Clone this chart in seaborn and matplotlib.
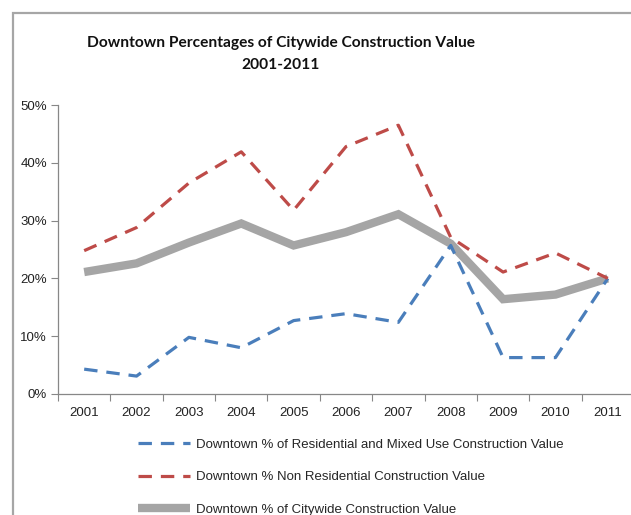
import matplotlib
matplotlib.use("Agg")
import matplotlib.pyplot as plt
from matplotlib.patches import Rectangle
from matplotlib.ticker import FixedLocator, PercentFormatter
import seaborn as sns
import pandas as pd

years = ["2001", "2002", "2003", "2004", "2005", "2006",
         "2007", "2008", "2009", "2010", "2011"]
residential = [4.3, 3.1, 9.8, 8.0, 12.7, 13.9, 12.4, 25.7, 6.3, 6.3, 20.0]
non_residential = [24.8, 28.8, 36.5, 41.9, 31.8, 42.8, 46.5, 27.1, 21.1, 24.4, 20.0]
citywide = [21.1, 22.6, 26.2, 29.5, 25.7, 28.0, 31.1, 26.0, 16.4, 17.2, 20.0]

labels = [
    "Downtown % of Residential and Mixed Use Construction Value",
    "Downtown % Non Residential Construction Value",
    "Downtown % of Citywide Construction Value",
]
colors = ["#4A7EBB", "#BE4B48", "#A5A5A5"]

sns.set_theme(style="white")
plt.rcParams["font.family"] = ["Liberation Sans", "DejaVu Sans"]

fig = plt.figure(figsize=(6.31, 5.15), dpi=100)
fig.patch.set_facecolor("white")

# outer chart border (open on the right and bottom)
fig.patches.append(Rectangle((13 / 631, -0.05), 1.2, (515 - 13) / 515 + 0.05,
                             transform=fig.transFigure, fill=False,
                             edgecolor="#A6A6A6", linewidth=1.6, zorder=0))

ax = fig.add_axes([58 / 631, (515 - 394) / 515, 576 / 631, (394 - 105) / 515])
ax.set_facecolor("none")

pos = list(range(len(years)))
df = pd.DataFrame({"pos": pos, "res": residential, "nonres": non_residential, "city": citywide})

sns.lineplot(data=df, x="pos", y="res", ax=ax, color=colors[0], linewidth=2.3,
             label=labels[0], dashes=False)
sns.lineplot(data=df, x="pos", y="nonres", ax=ax, color=colors[1], linewidth=2.3,
             label=labels[1], dashes=False)
sns.lineplot(data=df, x="pos", y="city", ax=ax, color=colors[2], linewidth=6,
             label=labels[2], dashes=False)

lines = ax.get_lines()
for ln in lines[:2]:
    ln.set_dashes((4.2, 2.8))
    ln.set_dash_capstyle("butt")
lines[2].set_solid_capstyle("butt")
lines[2].set_solid_joinstyle("miter")
for ln in lines:
    ln.set_zorder(3)
lines[2].set_zorder(2)

ax.set_xlim(-0.5, len(years) - 0.5)
ax.set_ylim(0, 50)
ax.set_xlabel("")
ax.set_ylabel("")

# category labels centred, tick marks between categories
ax.xaxis.set_major_locator(FixedLocator([p - 0.5 for p in pos] + [len(years) - 0.5]))
ax.xaxis.set_minor_locator(FixedLocator(pos))
ax.set_xticklabels([])
ax.set_xticklabels(years, minor=True)
ax.tick_params(axis="x", which="major", length=5, width=0.8, color="#878787",
               direction="out", bottom=True)
ax.tick_params(axis="x", which="minor", length=0, labelsize=9.5, pad=9,
               labelcolor="#222222")

ax.set_yticks([0, 10, 20, 30, 40, 50])
ax.yaxis.set_major_formatter(PercentFormatter(decimals=0))
ax.tick_params(axis="y", length=5, width=0.8, color="#878787", direction="out",
               left=True, labelsize=9.5, pad=3, labelcolor="#222222")

for side in ["top", "right"]:
    ax.spines[side].set_visible(False)
for side in ["left", "bottom"]:
    ax.spines[side].set_color("#878787")
    ax.spines[side].set_linewidth(0.9)

handles = ax.get_legend_handles_labels()[0]
ax.get_legend().remove()
fig.legend(handles, labels, loc="upper left",
           bbox_to_anchor=(133 / 631, (515 - 433) / 515), frameon=False,
           fontsize=9.5, handlelength=3.9, handletextpad=0.5,
           labelspacing=1.55, borderaxespad=0)

title_font = dict(family=["Lato", "DejaVu Sans"], fontweight="bold",
                  fontsize=11.2, color="#111111", ha="center", va="center")
fig.text(281 / 631, (515 - 43) / 515,
         "Downtown Percentages of Citywide Construction Value", **title_font)
fig.text(281 / 631, (515 - 65) / 515, "2001-2011", **title_font)

fig.savefig("out.png", dpi=100, facecolor="white")
